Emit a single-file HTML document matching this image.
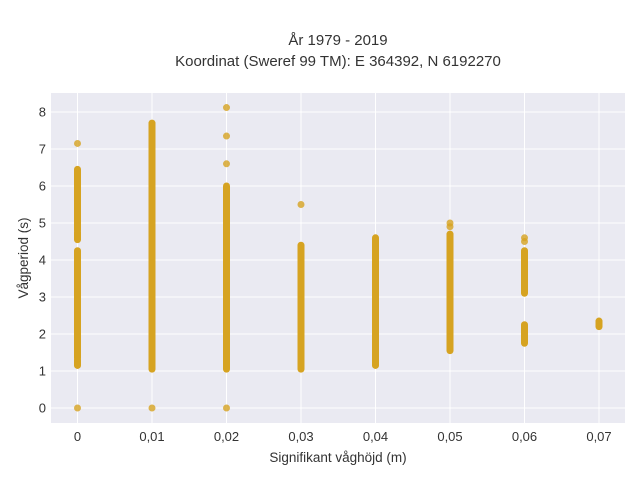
<!DOCTYPE html>
<html><head><meta charset="utf-8"><style>
body{margin:0;background:#fff;font-family:"Liberation Sans",sans-serif;}
svg text{font-family:"Liberation Sans",sans-serif;fill:#333;}
</style></head><body>
<svg width="640" height="480">
<text x="338" y="45" text-anchor="middle" font-size="15">År 1979 - 2019</text>
<text x="338" y="66" text-anchor="middle" font-size="15">Koordinat (Sweref 99 TM): E 364392, N 6192270</text>
<rect x="51" y="93" width="574" height="330" fill="#eaeaf2"/>
<g id="grid"></g><g id="marks"></g><g id="ticks"></g>
<text x="338" y="462" text-anchor="middle" font-size="13.5">Signifikant våghöjd (m)</text>
<text transform="translate(28,258) rotate(-90)" text-anchor="middle" font-size="13.5">Vågperiod (s)</text>
</svg>
<script>
const xTicks=[0,0.01,0.02,0.03,0.04,0.05,0.06,0.07];
const xTickLabels=["0","0,01","0,02","0,03","0,04","0,05","0,06","0,07"];
const yTicks=[0,1,2,3,4,5,6,7,8];
const segX=[0,0,0,0,0,0.01,0.02,0.03,0.04,0.05,0.06,0.06,0.07];
const segLow=[1.15,1.35,4.55,4.8,5.6,1.05,1.05,1.05,1.15,1.55,1.75,3.1,2.2];
const segHigh=[1.3,4.25,4.75,5.6,6.45,7.7,6.0,4.4,4.6,4.7,2.25,4.25,2.35];
const ptX=[0,0,0.01,0.02,0.02,0.02,0.02,0.03,0.05,0.05,0.06,0.06];
const ptY=[7.15,0,0,6.6,7.35,8.12,0,5.5,4.9,5.0,4.5,4.6];
const X=v=>77.5+v*7450, Y=v=>408-v*37;
const ns="http://www.w3.org/2000/svg";
const g=document.getElementById('grid'),m=document.getElementById('marks'),t=document.getElementById('ticks');
function el(tag,a,p){const e=document.createElementNS(ns,tag);for(const k in a)e.setAttribute(k,a[k]);p.appendChild(e);return e;}
xTicks.forEach((v,i)=>{
 const l=el('line',{x1:X(v),x2:X(v),y1:93,y2:423,stroke:'#fff','stroke-width':1},g);
 
 
 const tx=el('text',{x:X(v),y:441,'text-anchor':'middle','font-size':13},t);tx.textContent=xTickLabels[i];
 
 
});
yTicks.forEach(v=>{
 const l=el('line',{x1:51,x2:625,y1:Y(v),y2:Y(v),stroke:'#fff','stroke-width':1},g);
 
 
 const tx=el('text',{x:46,y:Y(v)+4.5,'text-anchor':'end','font-size':13},t);tx.textContent=v;
 
 
});
segX.forEach((v,i)=>{
 const l=el('line',{x1:X(v),x2:X(v),y1:Y(segLow[i]),y2:Y(segHigh[i]),stroke:'#d6a321','stroke-width':7,'stroke-linecap':'round'},m);
 
 
});
ptX.forEach((v,i)=>{
 const c=el('circle',{cx:X(v),cy:Y(ptY[i]),r:3.5,fill:'#d6a321','fill-opacity':0.8},m);
 
 
});
</script>
</body></html>
